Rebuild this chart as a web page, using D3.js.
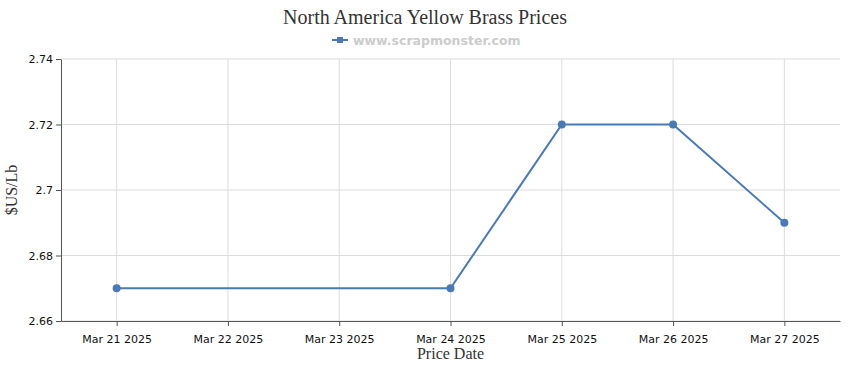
<!DOCTYPE html>
<html>
<head>
<meta charset="utf-8">
<script src="https://cdn.jsdelivr.net/npm/d3@7"></script>
<style>
  body { margin: 0; background: #fff; }
  svg { display: block; }
  .tick text { font-family: "DejaVu Sans", Verdana, sans-serif; font-size: 11px; fill: #111; }
</style>
</head>
<body>
<script>
const dates = ["Mar 21 2025", "Mar 22 2025", "Mar 23 2025", "Mar 24 2025", "Mar 25 2025", "Mar 26 2025", "Mar 27 2025"]
const priceDates = ["Mar 21 2025", "Mar 24 2025", "Mar 25 2025", "Mar 26 2025", "Mar 27 2025"]
const prices = [2.67, 2.67, 2.72, 2.72, 2.69]
const yTicks = [2.66, 2.68, 2.7, 2.72, 2.74]

const w = 850
const h = 370
const pLeft = 61, pRight = 840, pTop = 59, pBottom = 321
const color = "#4a7ab5"

const svg = d3.select("body")
              .append("svg")
              .attr("width", w)
              .attr("height", h)

const xScale = d3.scalePoint()
                 .domain(dates)
                 .range([pLeft, pRight])
                 .padding(0.5)
const yScale = d3.scaleLinear()
                 .domain([2.66, 2.74])
                 .range([pBottom, pTop])

// grid
svg.append("g")
   .selectAll("line")
   .data(yTicks)
   .enter()
   .append("line")
   .attr("x1", pLeft)
   .attr("x2", pRight)
   .attr("y1", (d) => yScale(d))
   .attr("y2", (d) => yScale(d))
   .attr("stroke", "#dcdcdc")
svg.append("g")
   .selectAll("line")
   .data(dates)
   .enter()
   .append("line")
   .attr("x1", (d) => xScale(d))
   .attr("x2", (d) => xScale(d))
   .attr("y1", pTop)
   .attr("y2", pBottom)
   .attr("stroke", "#dcdcdc")

const xAxis = d3.axisBottom(xScale).tickSize(5).tickSizeOuter(0)
const yAxis = d3.axisLeft(yScale).tickValues(yTicks).tickFormat(d3.format("")).tickSize(5).tickSizeOuter(0)

const gx = svg.append("g")
              .attr("id", "x-axis")
              .attr("transform", "translate(0, " + pBottom + ")")
              .call(xAxis)
gx.selectAll("text").attr("dy", "1.25em")
const gy = svg.append("g")
              .attr("id", "y-axis")
              .attr("transform", "translate(" + pLeft + ", 0)")
              .call(yAxis)
gy.selectAll("text").attr("x", -8)
svg.selectAll(".domain, .tick line").attr("stroke", "#555")

// line + points
const line = d3.line()
               .x((d, i) => xScale(priceDates[i]))
               .y((d) => yScale(d))
svg.append("path")
   .datum(prices)
   .attr("d", line)
   .attr("fill", "none")
   .attr("stroke", color)
   .attr("stroke-width", 2)
svg.selectAll("circle")
   .data(prices)
   .enter()
   .append("circle")
   .attr("cx", (d, i) => xScale(priceDates[i]))
   .attr("cy", (d) => yScale(d))
   .attr("r", 4)
   .attr("fill", color)

// titles
svg.append("text")
   .attr("x", 425)
   .attr("y", 24)
   .attr("text-anchor", "middle")
   .style("font-family", "'Liberation Serif', 'Times New Roman', serif")
   .style("font-size", "20px")
   .style("fill", "#333")
   .text("North America Yellow Brass Prices")

// legend
svg.append("line")
   .attr("x1", 332).attr("x2", 348)
   .attr("y1", 40).attr("y2", 40)
   .attr("stroke", color).attr("stroke-width", 2)
svg.append("rect")
   .attr("x", 337).attr("y", 37)
   .attr("width", 6).attr("height", 6)
   .attr("fill", color)
svg.append("text")
   .attr("x", 353)
   .attr("y", 45)
   .style("font-family", "'DejaVu Sans', Verdana, sans-serif")
   .style("font-size", "12.5px")
   .style("font-weight", "bold")
   .style("fill", "#cccccc")
   .text("www.scrapmonster.com")

svg.append("text")
   .attr("transform", "translate(17, " + ((pTop + pBottom) / 2) + ") rotate(-90)")
   .attr("text-anchor", "middle")
   .style("font-family", "'Liberation Serif', 'Times New Roman', serif")
   .style("font-size", "16px")
   .style("fill", "#333")
   .text("$US/Lb")

svg.append("text")
   .attr("x", (pLeft + pRight) / 2)
   .attr("y", 359)
   .attr("text-anchor", "middle")
   .style("font-family", "'Liberation Serif', 'Times New Roman', serif")
   .style("font-size", "16px")
   .style("fill", "#333")
   .text("Price Date")
</script>
</body>
</html>
